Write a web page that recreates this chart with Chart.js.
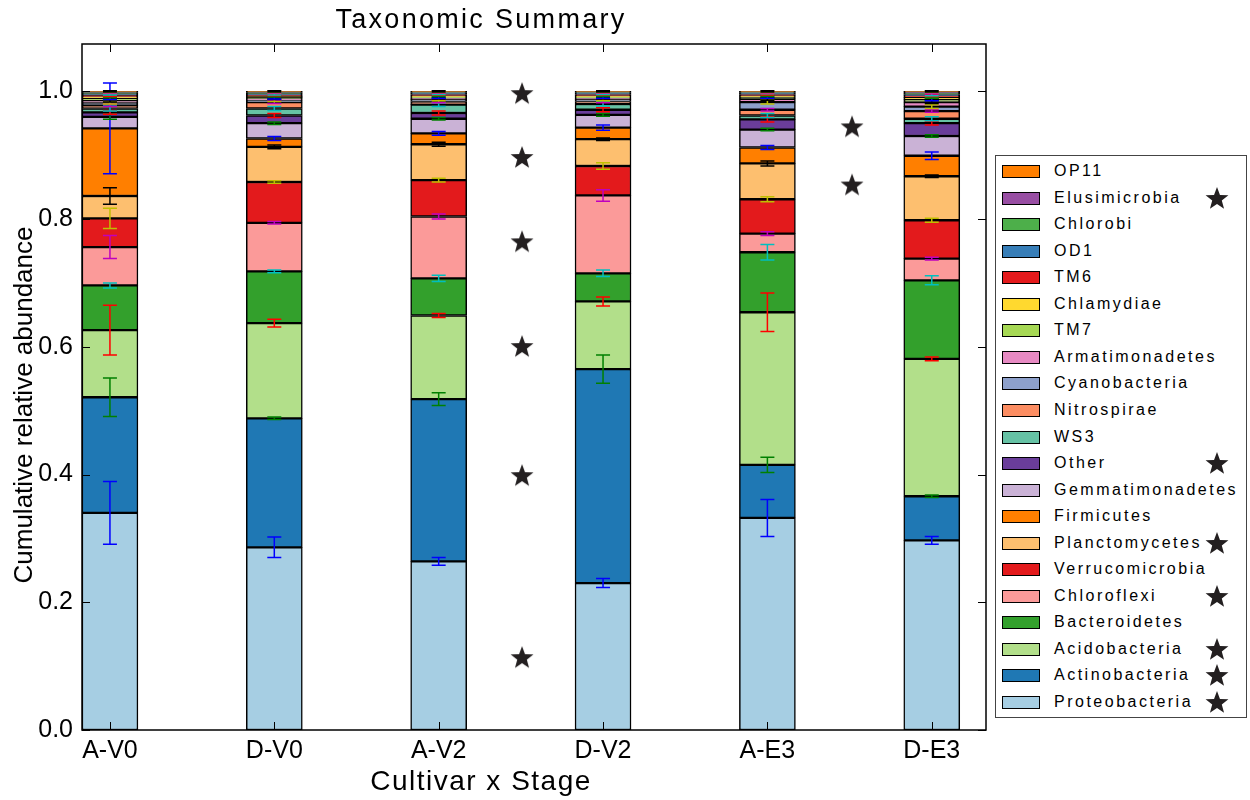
<!DOCTYPE html>
<html lang="en">
<head>
  <meta charset="UTF-8">
  <title>Taxonomic Summary</title>
  <script src="https://cdn.jsdelivr.net/npm/chart.js"></script>
  <style>
    body {
      margin: 0;
      background: #fff;
      font-family: 'Liberation Sans', Arial, sans-serif;
      color: #000;
    }
    #wrap { position: relative; width: 1250px; height: 800px; overflow: hidden; }
    #chart { position: absolute; left: 0; top: 0; }
    .title {
      position: absolute; left: 0; width: 962px; top: 6px;
      text-align: center; font-size: 27px; line-height: 27px; letter-spacing: 2.3px;
    }
    .xlabel {
      position: absolute; left: 0; width: 962px; top: 767px;
      text-align: center; font-size: 28px; line-height: 28px; letter-spacing: 1.5px;
    }
    .ylabel {
      position: absolute; left: -177px; top: 392px; width: 400px; height: 26px;
      line-height: 26px; text-align: center; font-size: 26px;
      transform: rotate(-90deg);
    }
    #legend {
      position: absolute; left: 995px; top: 155px; width: 252px; height: 563px;
      border: 1px solid #444; box-sizing: border-box; background: #fff;
    }
    .item { position: absolute; left: 0; width: 100%; height: 20px; }
    .sw { position: absolute; left: 6px; top: 4px; width: 36px; height: 11px; border: 1px solid #000; }
    .lab { position: absolute; left: 58px; top: 0; line-height: 20px; font-size: 16px; letter-spacing: 2.5px; white-space: nowrap; }
    .star { position: absolute; left: 209px; top: -2px; }
  </style>
</head>
<body>
  <div id="wrap">
    <canvas id="chart" width="1250" height="800"></canvas>
    <div class="title">Taxonomic Summary</div>
    <div class="xlabel">Cultivar x Stage</div>
    <div class="ylabel">Cumulative relative abundance</div>
    <div id="legend"></div>
  </div>
  <script>
    const samples = ["A-V0", "D-V0", "A-V2", "D-V2", "A-E3", "D-E3"];
    // bottom to top of each bar
    const taxa = ["Proteobacteria", "Actinobacteria", "Acidobacteria", "Bacteroidetes", "Chloroflexi",
      "Verrucomicrobia", "Planctomycetes", "Firmicutes", "Gemmatimonadetes", "Other", "WS3",
      "Nitrospirae", "Cyanobacteria", "Armatimonadetes", "TM7", "Chlamydiae", "TM6", "OD1",
      "Chlorobi", "Elusimicrobia", "OP11"];
    const colors = ["#a6cee3", "#1f78b4", "#b2df8a", "#33a02c", "#fb9a99", "#e31a1c", "#fdbf6f",
      "#ff7f00", "#cab2d6", "#6a3d9a", "#66c2a5", "#fc8d62", "#8da0cb", "#e78ac3", "#a6d854",
      "#ffd92f", "#e41a1c", "#377eb8", "#4daf4a", "#984ea3", "#ff7f00"];
    const starred = ["Proteobacteria", "Actinobacteria", "Acidobacteria", "Chloroflexi",
      "Planctomycetes", "Other", "Elusimicrobia"];

    // mean relative abundance, one row per taxon (same order as taxa), one column per sample
    const means = [
      [0.340, 0.286, 0.264, 0.230, 0.332, 0.297],
      [0.181, 0.202, 0.254, 0.335, 0.083, 0.069],
      [0.105, 0.149, 0.131, 0.106, 0.239, 0.215],
      [0.070, 0.081, 0.058, 0.044, 0.094, 0.123],
      [0.060, 0.076, 0.097, 0.122, 0.029, 0.034],
      [0.045, 0.064, 0.057, 0.046, 0.054, 0.060],
      [0.035, 0.055, 0.056, 0.042, 0.056, 0.069],
      [0.106, 0.013, 0.017, 0.018, 0.025, 0.032],
      [0.018, 0.024, 0.023, 0.020, 0.028, 0.031],
      [0.007, 0.012, 0.009, 0.008, 0.016, 0.020],
      [0.006, 0.011, 0.013, 0.009, 0.006, 0.007],
      [0.005, 0.010, 0.005, 0.004, 0.009, 0.012],
      [0.004, 0.003, 0.003, 0.003, 0.012, 0.007],
      [0.003, 0.002, 0.002, 0.002, 0.005, 0.007],
      [0.004, 0.002, 0.002, 0.002, 0.003, 0.004],
      [0.002, 0.002, 0.002, 0.002, 0.002, 0.003],
      [0.003, 0.002, 0.002, 0.002, 0.002, 0.003],
      [0.002, 0.002, 0.002, 0.002, 0.002, 0.002],
      [0.002, 0.002, 0.001, 0.001, 0.001, 0.002],
      [0.001, 0.001, 0.001, 0.001, 0.001, 0.002],
      [0.001, 0.001, 0.001, 0.001, 0.001, 0.001]
    ];
    // standard errors, same layout
    const errors = [
      [0.049, 0.016, 0.006, 0.007, 0.029, 0.006],
      [0.030, 0.002, 0.010, 0.022, 0.012, 0.002],
      [0.039, 0.006, 0.003, 0.007, 0.030, 0.003],
      [0.004, 0.002, 0.005, 0.005, 0.012, 0.007],
      [0.018, 0.002, 0.004, 0.009, 0.003, 0.002],
      [0.016, 0.002, 0.003, 0.005, 0.004, 0.003],
      [0.013, 0.003, 0.003, 0.002, 0.004, 0.002],
      [0.071, 0.003, 0.003, 0.004, 0.003, 0.006],
      [0.004, 0.002, 0.002, 0.002, 0.002, 0.002],
      [0.003, 0.003, 0.003, 0.003, 0.004, 0.003],
      [0.004, 0.003, 0.003, 0.003, 0.003, 0.003],
      [0.002, 0.002, 0.002, 0.002, 0.002, 0.002],
      [0.002, 0.002, 0.002, 0.002, 0.003, 0.003],
      [0.002, 0.001, 0.001, 0.001, 0.002, 0.002],
      [0.002, 0.002, 0.002, 0.002, 0.002, 0.002],
      [0.001, 0.001, 0.001, 0.001, 0.001, 0.001],
      [0.002, 0.001, 0.001, 0.001, 0.001, 0.001],
      [0.002, 0.002, 0.002, 0.002, 0.001, 0.002],
      [0.001, 0.001, 0.001, 0.001, 0.001, 0.001],
      [0.001, 0.001, 0.001, 0.001, 0.001, 0.001],
      [0.001, 0.001, 0.001, 0.001, 0.001, 0.001]
    ];
    const errColors = ["#0000ff", "#008000", "#ff0000", "#00bfbf", "#bf00bf", "#bfbf00", "#000000"];

    // significance stars (data coordinates)
    const starX = [2.677, 2.677, 2.677, 2.677, 2.677, 2.677, 4.685, 4.685];
    const starY = [0.997, 0.897, 0.765, 0.601, 0.399, 0.114, 0.945, 0.854];

    const yTicks = [0, 0.2, 0.4, 0.6, 0.8, 1.0];
    const barOffset = 0.17;   // bars start at integer x, centre is offset
    const yMax = 1.074;
    const xMax = 5.5;

    function makeStar(size, color) {
      const c = document.createElement("canvas");
      c.width = c.height = size;
      const g = c.getContext("2d");
      const R = size / 2, r = R * 0.42;
      g.beginPath();
      for (let k = 0; k < 10; k++) {
        const a = -Math.PI / 2 + k * Math.PI / 5;
        const rad = k % 2 ? r : R;
        g.lineTo(R + rad * Math.cos(a), R + 1 + rad * Math.sin(a));
      }
      g.closePath();
      g.fillStyle = color;
      g.fill();
      return c;
    }
    const starImg = makeStar(24, "#231f20");

    // legend (reverse order, top is last taxon)
    const legend = document.getElementById("legend");
    const starUrl = starImg.toDataURL();
    taxa.slice().reverse().forEach((name, i) => {
      const t = taxa.length - 1 - i;
      const item = document.createElement("div");
      item.className = "item";
      item.style.top = (5 + i * 26.55) + "px";
      item.innerHTML = `<div class="sw" style="background:${colors[t]}"></div><div class="lab">${name}</div>` +
        (starred.includes(name) ? `<img class="star" src="${starUrl}" width="24" height="24">` : "");
      legend.appendChild(item);
    });

    const datasets = taxa.map((name, t) => ({
      type: "bar",
      label: name,
      data: samples.map((s, i) => ({ x: i + barOffset, y: means[t][i] })),
      backgroundColor: colors[t],
      borderColor: "#000",
      borderWidth: 1.5,
      borderSkipped: false,
      barThickness: 56,
      stack: "taxa"
    }));
    datasets.push({
      type: "scatter",
      label: "significant",
      data: starX.map((x, k) => ({ x: x, y: starY[k] })),
      pointStyle: starImg,
      pointRadius: 10,
      stack: "stars"
    });

    const framePlugin = {
      id: "frameAndErrors",
      afterDatasetsDraw(chart) {
        const { ctx, chartArea: a, scales: { x, y } } = chart;
        ctx.save();
        // error bars at the top of every segment
        ctx.lineWidth = 1.5;
        taxa.forEach((name, t) => {
          ctx.strokeStyle = errColors[t % errColors.length];
          samples.forEach((s, i) => {
            let top = 0;
            for (let k = 0; k <= t; k++) top += means[k][i];
            const px = x.getPixelForValue(i + barOffset);
            const y1 = y.getPixelForValue(top - errors[t][i]);
            const y2 = y.getPixelForValue(top + errors[t][i]);
            ctx.beginPath();
            ctx.moveTo(px, y1); ctx.lineTo(px, y2);
            ctx.moveTo(px - 7, y1); ctx.lineTo(px + 7, y1);
            ctx.moveTo(px - 7, y2); ctx.lineTo(px + 7, y2);
            ctx.stroke();
          });
        });
        // axes frame with inward ticks
        ctx.strokeStyle = "#000";
        ctx.lineWidth = 1;
        ctx.beginPath();
        yTicks.forEach(v => {
          const py = Math.round(y.getPixelForValue(v)) + 0.5;
          ctx.moveTo(a.left, py); ctx.lineTo(a.left + 8, py);
          ctx.moveTo(a.right, py); ctx.lineTo(a.right - 8, py);
        });
        samples.forEach((s, i) => {
          const px = Math.round(x.getPixelForValue(i + barOffset)) + 0.5;
          ctx.moveTo(px, a.bottom); ctx.lineTo(px, a.bottom - 8);
          ctx.moveTo(px, a.top); ctx.lineTo(px, a.top + 8);
        });
        ctx.stroke();
        ctx.lineWidth = 1.5;
        ctx.strokeRect(a.left, a.top, a.right - a.left, a.bottom - a.top);
        ctx.restore();
      }
    };

    new Chart(document.getElementById("chart"), {
      type: "bar",
      data: { datasets },
      options: {
        responsive: false,
        animation: false,
        events: [],
        layout: { padding: { top: 44, right: 264, bottom: 0, left: 0 } },
        plugins: {
          legend: { display: false },
          tooltip: { enabled: false },
          title: { display: false }
        },
        scales: {
          x: {
            type: "linear",
            min: 0,
            max: xMax,
            stacked: true,
            offset: false,
            grid: { display: false, drawTicks: false },
            border: { display: false },
            afterBuildTicks: s => { s.ticks = samples.map((_, i) => ({ value: i + barOffset })); },
            afterFit: s => { s.height = 70; },
            ticks: {
              autoSkip: false,
              maxRotation: 0,
              padding: 6,
              color: "#000",
              font: { family: "'Liberation Sans', Arial, sans-serif", size: 25 },
              callback: (v, idx) => samples[idx]
            }
          },
          y: {
            min: 0,
            max: yMax,
            stacked: true,
            grid: { display: false, drawTicks: false },
            border: { display: false },
            afterBuildTicks: s => { s.ticks = yTicks.map(v => ({ value: v })); },
            afterFit: s => { s.width = 82; },
            ticks: {
              padding: 9,
              color: "#000",
              font: { family: "'Liberation Sans', Arial, sans-serif", size: 25 },
              callback: v => v.toFixed(1)
            }
          }
        }
      },
      plugins: [framePlugin]
    });
  </script>
</body>
</html>
